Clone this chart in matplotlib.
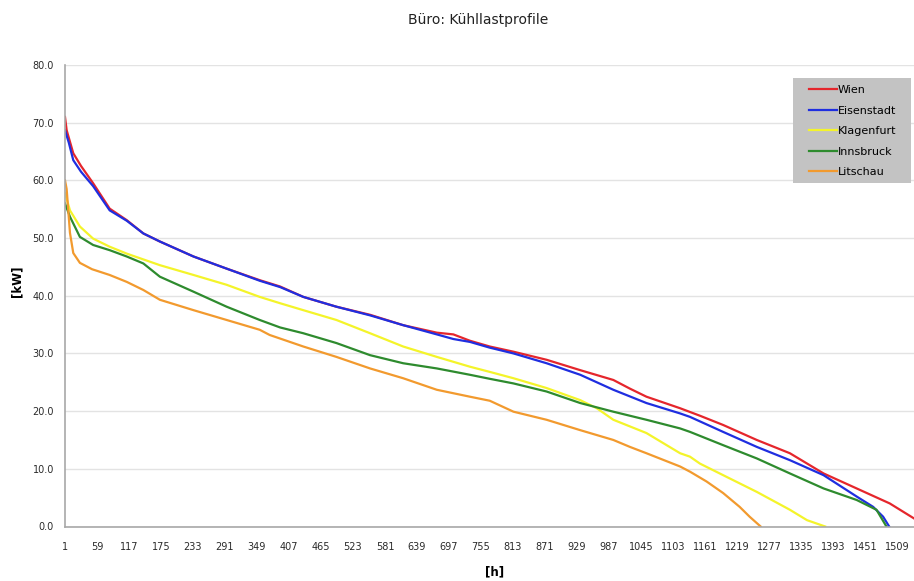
import matplotlib
matplotlib.use("Agg")
import matplotlib.pyplot as plt
from matplotlib.patches import Rectangle

# Sorted cooling-load duration curves (hour rank -> load in kW)
wien_h = [1, 4, 16, 30, 52, 82, 113, 143, 173, 234, 294, 354, 391, 433, 493, 554, 614, 675, 705,
          735, 771, 814, 874, 935, 995, 1025, 1055, 1116, 1152, 1194, 1255, 1315, 1376, 1436, 1496, 1540]
wien_kw = [71.0, 68.7, 64.7, 62.5, 59.5, 55.1, 53.1, 50.8, 49.4, 46.8, 44.7, 42.7, 41.6, 39.8, 38.1, 36.7,
           34.9, 33.6, 33.3, 32.2, 31.2, 30.3, 28.9, 27.1, 25.4, 23.9, 22.5, 20.5, 19.2, 17.6, 15.0, 12.7,
           9.2, 6.6, 4.0, 1.4]

eisenstadt_h = [1, 8, 16, 30, 52, 82, 113, 143, 173, 234, 294, 354, 391, 433, 493, 554, 614, 675, 705,
                735, 771, 814, 874, 935, 995, 1055, 1116, 1134, 1194, 1255, 1315, 1376, 1436, 1466, 1484, 1495]
eisenstadt_kw = [68.7, 66.5, 63.5, 61.5, 59.0, 54.8, 53.0, 50.8, 49.4, 46.8, 44.7, 42.6, 41.5, 39.8, 38.1,
                 36.6, 34.9, 33.3, 32.5, 32.0, 31.0, 30.0, 28.3, 26.3, 23.7, 21.4, 19.6, 19.0, 16.4, 13.8,
                 11.5, 8.9, 5.2, 3.4, 1.7, 0.0]

klagenfurt_h = [1, 10, 28, 52, 82, 113, 173, 234, 294, 354, 391, 433, 493, 554, 614, 675, 735, 771, 814,
                874, 935, 965, 995, 1055, 1116, 1134, 1152, 1194, 1255, 1315, 1346, 1379]
klagenfurt_kw = [57.8, 54.8, 52.0, 49.9, 48.5, 47.3, 45.3, 43.6, 41.9, 39.8, 38.7, 37.5, 35.8, 33.5, 31.2,
                 29.4, 27.7, 26.8, 25.7, 24.0, 21.9, 20.5, 18.5, 16.2, 12.7, 12.1, 10.9, 8.9, 6.0, 2.9,
                 1.1, 0.0]

innsbruck_h = [1, 10, 28, 52, 82, 113, 143, 173, 234, 294, 354, 391, 433, 493, 554, 614, 675, 735, 771,
               814, 874, 935, 995, 1055, 1116, 1134, 1194, 1255, 1315, 1376, 1436, 1472, 1490]
innsbruck_kw = [56.0, 53.7, 50.2, 48.8, 47.9, 46.8, 45.6, 43.3, 40.7, 38.1, 35.8, 34.5, 33.5, 31.8, 29.7,
                28.3, 27.4, 26.3, 25.6, 24.8, 23.4, 21.4, 19.9, 18.5, 17.0, 16.4, 14.1, 11.8, 9.2, 6.6,
                4.6, 2.9, 0.0]

litschau_h = [1, 4, 10, 16, 28, 50, 82, 113, 143, 173, 234, 294, 354, 372, 433, 493, 554, 614, 675, 735,
              771, 814, 874, 935, 995, 1025, 1055, 1116, 1134, 1164, 1194, 1224, 1242, 1262]
litschau_kw = [60.0, 58.5, 50.9, 47.4, 45.7, 44.6, 43.6, 42.4, 41.0, 39.3, 37.5, 35.8, 34.1, 33.2, 31.2,
               29.4, 27.4, 25.7, 23.7, 22.5, 21.8, 19.9, 18.5, 16.7, 15.0, 13.8, 12.7, 10.4, 9.5, 7.8,
               5.8, 3.4, 1.7, 0.0]

series = [
    ("Wien", wien_h, wien_kw, "#e5262c"),
    ("Eisenstadt", eisenstadt_h, eisenstadt_kw, "#1f2ee0"),
    ("Klagenfurt", klagenfurt_h, klagenfurt_kw, "#f4f42a"),
    ("Innsbruck", innsbruck_h, innsbruck_kw, "#2e8b2e"),
    ("Litschau", litschau_h, litschau_kw, "#f29a2e"),
]

x_ticks = list(range(1, 1510, 58))
y_ticks = [0, 10, 20, 30, 40, 50, 60, 70, 80]

W, H = 914, 581
fam = ["DejaVu Sans"]
fig = plt.figure(figsize=(W / 100, H / 100), dpi=100)
ax = fig.add_axes([65 / W, 1 - 526.5 / H, 849 / W, 461.5 / H])

for name, h, kw, col in series:
    ax.plot(h, kw, color=col, lw=1.6, label=name, solid_joinstyle="round")

ax.set_xlim(1, 1540)
ax.set_ylim(0, 80)
ax.set_xticks(x_ticks)
ax.set_xticklabels([str(t) for t in x_ticks], fontsize=7, family=fam, color="#2a2a2a")
ax.set_yticks(y_ticks)
ax.set_yticklabels([f"{t:.1f}" for t in y_ticks], fontsize=7, family=fam, color="#2a2a2a")
ax.tick_params(axis="x", length=0, pad=11)
ax.tick_params(axis="y", length=0, pad=8)
ax.grid(axis="y", color="#e3e3e3", lw=1.0)
ax.set_axisbelow(True)
for side in ("top", "right"):
    ax.spines[side].set_visible(False)
for side in ("left", "bottom"):
    ax.spines[side].set_color("#a8a8a8")
    ax.spines[side].set_linewidth(1.2)

# Titles and axis captions
fig.text(478 / W, 1 - 20 / H, "Büro: Kühllastprofile", fontsize=10, family=fam,
         color="#222222", ha="center", va="center")
fig.text(17 / W, 1 - 281 / H, "[kW]", fontsize=8.5, family=fam, fontweight="bold",
         rotation=90, ha="center", va="center")
fig.text(495 / W, 1 - 572 / H, "[h]", fontsize=8.5, family=fam, fontweight="bold",
         ha="center", va="center")

# Legend on a grey panel
ax.add_patch(Rectangle(((793 - 65) / 849, (526.5 - 183) / 461.5), (911 - 793) / 849, (183 - 78) / 461.5,
                       transform=ax.transAxes, facecolor="#c3c3c3", edgecolor="none",
                       zorder=4.5, clip_on=False))
leg = ax.legend(loc="upper left", bbox_to_anchor=((809 - 65) / 849, (526.5 - 85) / 461.5),
                borderaxespad=0, borderpad=0, frameon=False,
                prop={"family": fam, "size": 8}, handlelength=2.5, handletextpad=0.1,
                labelspacing=0.95)
leg.set_zorder(5)

fig.savefig("out.png", dpi=100)
